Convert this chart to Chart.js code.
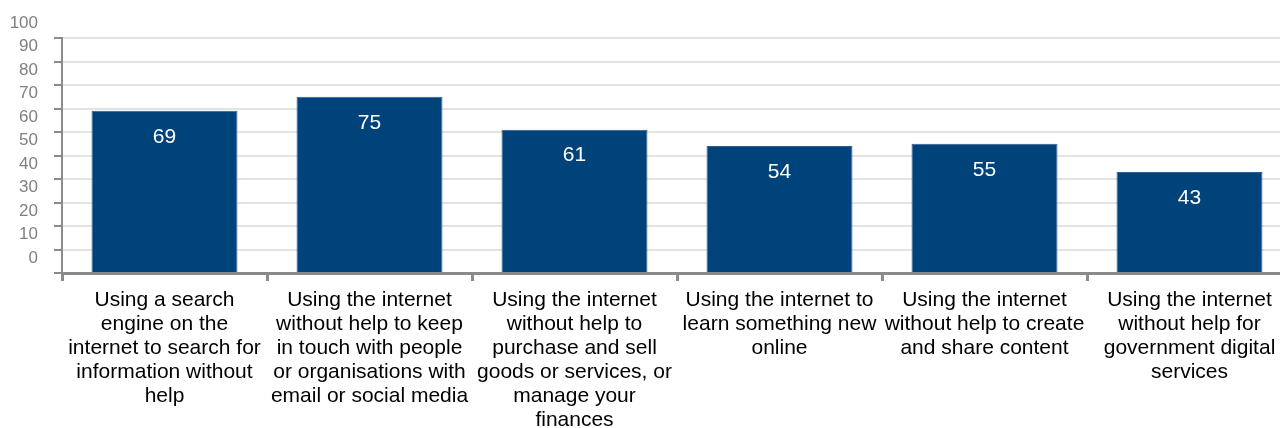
<!DOCTYPE html>
<html>
<head>
<meta charset="utf-8">
<script src="https://cdn.jsdelivr.net/npm/chart.js@4"></script>
<style>
  html, body { margin: 0; padding: 0; background: #fff; overflow: hidden; }
  #wrap { position: relative; width: 1292px; height: 433px; }
</style>
</head>
<body>
<div id="wrap"><canvas id="chartSkills"></canvas></div>
<script>
const categorias = [
    ['Using a search', 'engine on the', 'internet to search for', 'information without', 'help'],
    ['Using the internet', 'without help to keep', 'in touch with people', 'or organisations with', 'email or social media'],
    ['Using the internet', 'without help to', 'purchase and sell', 'goods or services, or', 'manage your', 'finances'],
    ['Using the internet to', 'learn something new', 'online'],
    ['Using the internet', 'without help to create', 'and share content'],
    ['Using the internet', 'without help for', 'government digital', 'services']
];
const valores = [69, 75, 61, 54, 55, 43];
const yMin = 0;
const yMax = 100;
const yPaso = 10;

const fuente = "'Liberation Sans', Arial, sans-serif";

// etiquetas blancas dentro de cada barra
const etiquetasBarra = {
    id: 'etiquetasBarra',
    afterDatasetsDraw(chart) {
        const ctx = chart.ctx;
        const meta = chart.getDatasetMeta(0);
        ctx.save();
        ctx.fillStyle = '#ffffff';
        ctx.font = '21px ' + fuente;
        ctx.textAlign = 'center';
        ctx.textBaseline = 'middle';
        meta.data.forEach((bar, i) => {
            ctx.fillText(String(valores[i]), bar.x, bar.y + 26);
        });
        ctx.restore();
    }
};

new Chart(document.getElementById('chartSkills'), {
    type: 'bar',
    data: {
        labels: categorias,
        datasets: [{
            data: valores,
            backgroundColor: '#00427a',
            borderColor: '#2d5f92',
            borderWidth: 1,
            categoryPercentage: 1,
            barPercentage: 0.712
        }]
    },
    options: {
        responsive: true,
        maintainAspectRatio: false,
        animation: false,
        layout: { padding: { top: 38, left: 0, right: 0, bottom: 0 } },
        plugins: {
            legend: { display: false },
            tooltip: { enabled: false }
        },
        scales: {
            x: {
                afterFit: (axis) => { axis.height = 160; },
                grid: {
                    drawOnChartArea: false,
                    drawTicks: true,
                    tickLength: 8,
                    tickColor: '#8a8a8a',
                    tickWidth: 3
                },
                border: { display: true, color: '#8a8a8a', width: 3 },
                ticks: {
                    color: '#000000',
                    font: { family: fuente, size: 21, lineHeight: '24px' },
                    maxRotation: 0,
                    autoSkip: false,
                    padding: 7
                }
            },
            y: {
                min: yMin,
                max: yMax,
                afterFit: (axis) => { axis.width = 62; },
                grid: {
                    color: '#e3e3e3',
                    lineWidth: 2,
                    drawTicks: true,
                    tickLength: 8,
                    tickColor: '#8a8a8a',
                    tickWidth: 2
                },
                border: { display: true, color: '#8a8a8a', width: 2 },
                ticks: {
                    stepSize: yPaso,
                    autoSkip: false,
                    color: '#808080',
                    font: { family: fuente, size: 17 },
                    padding: 16,
                    labelOffset: -15
                }
            }
        }
    },
    plugins: [etiquetasBarra]
});
</script>
</body>
</html>
